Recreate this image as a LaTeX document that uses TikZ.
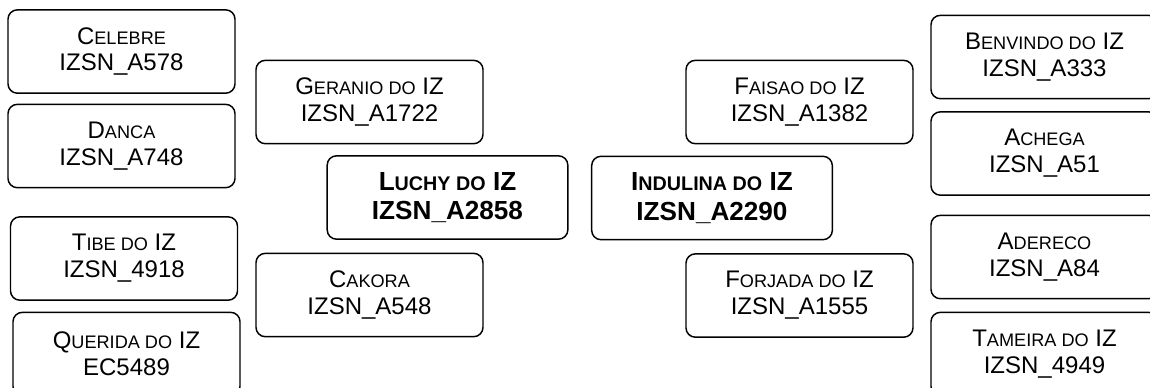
\documentclass[tikz,border=0pt]{standalone}
\usepackage{fontspec}
\setmainfont{Liberation Sans}
\newcommand\smc[1]{{\fontsize{13.6}{13.6}\selectfont #1}}
\newcommand\smb[1]{{\fontsize{14.8}{14.8}\selectfont #1}}
\tikzset{
  card/.style={draw=black, line width=1.1pt, rounded corners=7pt, rectangle,
    minimum width=170.25pt, minimum height=62.5pt, inner sep=0pt,
    align=center, font=\fontsize{18}{20.25}\selectfont},
  widecard/.style={card, minimum width=180.5pt},
  bf/.style={font=\fontsize{19.6}{22}\selectfont\bfseries}
}
\begin{document}
\begin{tikzpicture}[x=0.75pt,y=-0.75pt]
\useasboundingbox (0,0) rectangle (1150,387);
\clip (0,0) rectangle (1150,387);
\fill[white] (0,0) rectangle (1150,387);
% left column
\node[card] (celebre) at (121.5,51.5) {C\smc{ELEBRE}\\IZSN\_A578};
\node[card] (danca) at (121.5,146) {D\smc{ANCA}\\IZSN\_A748};
\node[card] (tibe) at (124,258.5) {T\smc{IBE DO} IZ\\IZSN\_4918};
\node[card] (querida) at (126.5,354) {Q\smc{UERIDA DO} IZ\\EC5489};
% centre left
\node[card] (geranio) at (369.5,102) {G\smc{ERANIO DO} IZ\\IZSN\_A1722};
\node[widecard,bf] (luchy) at (447.5,197.5) {L\smb{UCHY DO} IZ\\IZSN\_A2858};
\node[card] (cakora) at (369.5,295) {C\smc{AKORA}\\IZSN\_A548};
% centre right
\node[widecard,bf] (indulina) at (712,198) {I\smb{NDULINA DO} IZ\\IZSN\_A2290};
\node[card] (faisao) at (799.5,102) {F\smc{AISAO DO} IZ\\IZSN\_A1382};
\node[card] (forjada) at (799.5,295.5) {F\smc{ORJADA DO} IZ\\IZSN\_A1555};
% right column
\node[card] (benvindo) at (1044.5,57) {B\smc{ENVINDO DO} IZ\\IZSN\_A333};
\node[card] (achega) at (1044.5,153.5) {A\smc{CHEGA}\\IZSN\_A51};
\node[card] (adereco) at (1044.5,257) {A\smc{DERECO}\\IZSN\_A84};
\node[card] (tameira) at (1044.5,354) {T\smc{AMEIRA DO} IZ\\IZSN\_4949};
\end{tikzpicture}
\end{document}
